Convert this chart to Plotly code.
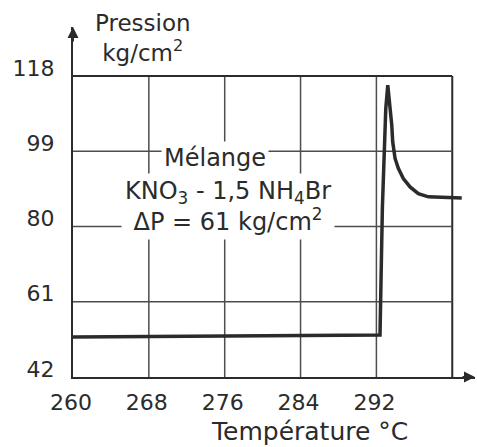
import plotly.graph_objects as go

# Pressure trace of the KNO3 - 1,5 NH4Br mixture versus temperature
temperature = [260.0, 292.38, 292.63, 292.73, 292.99, 293.20, 293.47, 293.62, 293.72,
               293.97, 294.31, 294.84, 295.55, 296.42, 297.48, 301.0]
pressure = [52.1, 52.6, 84.6, 93.0, 109.8, 115.7, 109.8, 105.6, 101.4,
            97.2, 94.7, 92.1, 90.0, 88.3, 87.5, 87.2]

x_ticks = [260, 268, 276, 284, 292]
x_ticktext = ["260", "268", "276", "284", "292"]
y_ticks = [42, 61, 80, 99, 118]
y_ticktext = ["42", "61", "80", "99", "118"]

x_grid = [268, 276, 284, 292, 300]
y_grid = [61, 80, 99, 118]

x_min, x_max, x_frame = 260, 302.4, 300
y_min, y_max, y_frame = 42, 130.4, 118

FONT = "DejaVu Sans"
INK = "#2b2b2b"
GRID = "#4d4d4d"

fig = go.Figure()
fig.add_trace(go.Scatter(
    x=temperature, y=pressure, mode="lines",
    line=dict(color=INK, width=3.5),
    hoverinfo="skip", showlegend=False, cliponaxis=False,
))

shapes = []
for xv in x_grid:
    frame = xv == x_frame
    shapes.append(dict(type="line", xref="x", yref="y", x0=xv, x1=xv, y0=y_min, y1=y_frame,
                       line=dict(color=INK if frame else GRID, width=2 if frame else 1.5),
                       layer="below"))
for yv in y_grid:
    frame = yv == y_frame
    shapes.append(dict(type="line", xref="x", yref="y", x0=x_min, x1=x_frame, y0=yv, y1=yv,
                       line=dict(color=INK if frame else GRID, width=2 if frame else 1.5),
                       layer="below"))

annotations = [
    # axis arrowheads
    dict(x=x_max, y=y_min, xref="x", yref="y", ax=-14, ay=0, axref="pixel", ayref="pixel",
         text="", showarrow=True, arrowhead=2, arrowsize=1.1, arrowwidth=2, arrowcolor=INK),
    dict(x=x_min, y=y_max, xref="x", yref="y", ax=0, ay=16, axref="pixel", ayref="pixel",
         text="", showarrow=True, arrowhead=2, arrowsize=1.1, arrowwidth=2, arrowcolor=INK),
    # axis titles
    dict(x=267.4, y=y_max - 2.8, xref="x", yref="y", showarrow=False,
         text="Pression<br>kg/cm<sup>2</sup>", font=dict(family=FONT, size=23, color=INK),
         align="center", yanchor="middle"),
    dict(x=284.9, y=y_min, xref="x", yref="y", yshift=-54, showarrow=False,
         text="Température °C", font=dict(family=FONT, size=25, color=INK),
         yanchor="middle"),
    # legend text on white ground
    dict(x=275.0, y=97.4, xref="x", yref="y", showarrow=False, text="Mélange",
         font=dict(family=FONT, size=24, color=INK), bgcolor="white", borderpad=2),
    dict(x=276.4, y=85.0, xref="x", yref="y", showarrow=False,
         text="KNO<sub>3</sub> - 1,5 NH<sub>4</sub>Br<br>ΔP = 61 kg/cm<sup>2</sup>",
         font=dict(family=FONT, size=24, color=INK), bgcolor="white", borderpad=3,
         align="center"),
]

fig.update_layout(
    width=477, height=447,
    margin=dict(l=73, r=2, t=27, b=70),
    paper_bgcolor="white", plot_bgcolor="white",
    shapes=shapes, annotations=annotations,
    xaxis=dict(range=[x_min, x_max], showgrid=False, zeroline=False,
               showline=True, linecolor=INK, linewidth=2,
               tickmode="array", tickvals=x_ticks, ticktext=x_ticktext,
               ticks="", ticklabelshift=-2, ticklabelstandoff=5,
               tickfont=dict(family=FONT, size=22, color=INK)),
    yaxis=dict(range=[y_min, y_max], showgrid=False, zeroline=False,
               showline=True, linecolor=INK, linewidth=2,
               tickmode="array", tickvals=y_ticks, ticktext=y_ticktext,
               ticks="", ticklabelshift=-8, ticklabelstandoff=12,
               tickfont=dict(family=FONT, size=22, color=INK)),
)

fig.write_html("out.html")
